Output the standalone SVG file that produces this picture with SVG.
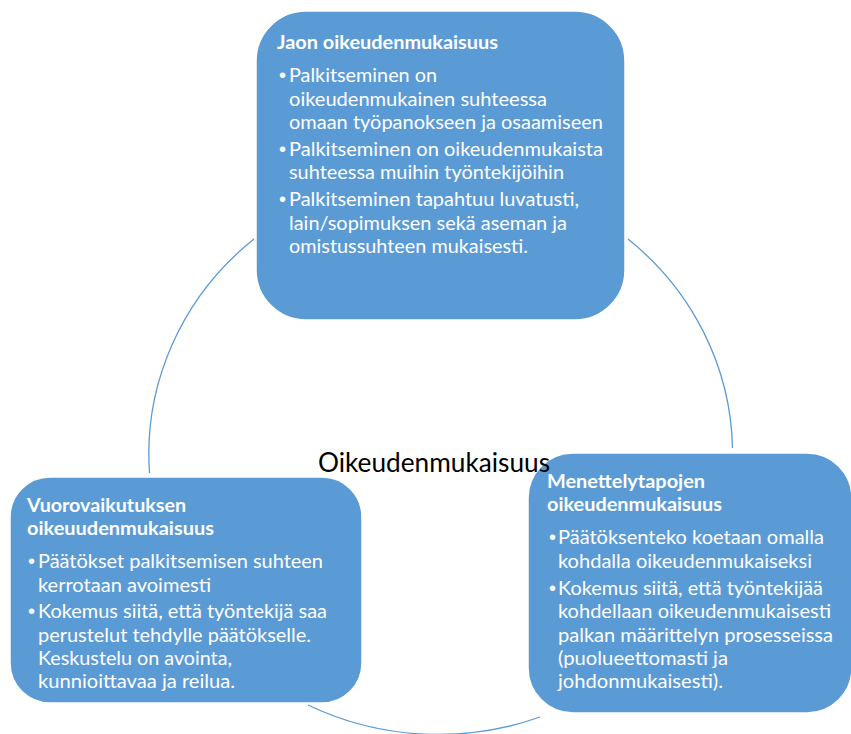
<svg xmlns="http://www.w3.org/2000/svg" width="851" height="734" viewBox="0 0 851 734">
<style>
.box{fill:#5B9BD5;stroke:#ffffff;stroke-width:1.5}
.arc{fill:none;stroke:#5B9BD5;stroke-width:1.3}
.t{font-family:Lato,"Liberation Sans",sans-serif;font-size:19.5px;fill:#ffffff}
.b{font-family:"Liberation Sans",sans-serif;font-size:20px;fill:#ffffff}
.h{font-family:Lato,"Liberation Sans",sans-serif;font-size:19.5px;font-weight:bold;fill:#ffffff}
.c{font-family:Lato,"Liberation Sans",sans-serif;font-size:27px;fill:#000000}
</style>
<rect width="851" height="734" fill="#ffffff"/>
<g id="connectors">
<path class="arc" d="M 254 239 A 292 280 0 0 0 149.5 473"/>
<path class="arc" d="M 628 239 A 292 280 0 0 1 732.5 448"/>
<path class="arc" d="M 540 717 A 292 280 0 0 1 308 705"/>
</g>
<g id="node-jaon">
<rect class="box" x="256" y="11" width="369" height="309" rx="50" ry="50"/>
<text class="h" x="277" y="49" textLength="221" lengthAdjust="spacingAndGlyphs">Jaon oikeudenmukaisuus</text>
<text class="b" x="279" y="82">•</text>
<text class="t" x="289" y="82" textLength="148" lengthAdjust="spacingAndGlyphs">Palkitseminen on</text>
<text class="t" x="289" y="106" textLength="258" lengthAdjust="spacingAndGlyphs">oikeudenmukainen suhteessa</text>
<text class="t" x="289" y="129" textLength="314" lengthAdjust="spacingAndGlyphs">omaan työpanokseen ja osaamiseen</text>
<text class="b" x="279" y="156">•</text>
<text class="t" x="289" y="156" textLength="314" lengthAdjust="spacingAndGlyphs">Palkitseminen on oikeudenmukaista</text>
<text class="t" x="289" y="179" textLength="275" lengthAdjust="spacingAndGlyphs">suhteessa muihin työntekijöihin</text>
<text class="b" x="279" y="206">•</text>
<text class="t" x="289" y="206" textLength="290" lengthAdjust="spacingAndGlyphs">Palkitseminen tapahtuu luvatusti,</text>
<text class="t" x="289" y="230" textLength="278" lengthAdjust="spacingAndGlyphs">lain/sopimuksen sekä aseman ja</text>
<text class="t" x="289" y="253" textLength="239" lengthAdjust="spacingAndGlyphs">omistussuhteen mukaisesti.</text>
</g>
<g id="node-vuorovaikutus">
<rect class="box" x="10" y="477" width="352" height="226" rx="40" ry="40"/>
<text class="h" x="27" y="512" textLength="159" lengthAdjust="spacingAndGlyphs">Vuorovaikutuksen</text>
<text class="h" x="27" y="535" textLength="187" lengthAdjust="spacingAndGlyphs">oikeuudenmukaisuus</text>
<text class="b" x="28" y="568">•</text>
<text class="t" x="38" y="568" textLength="285" lengthAdjust="spacingAndGlyphs">Päätökset palkitsemisen suhteen</text>
<text class="t" x="38" y="592" textLength="173" lengthAdjust="spacingAndGlyphs">kerrotaan avoimesti</text>
<text class="b" x="28" y="618">•</text>
<text class="t" x="38" y="618" textLength="289" lengthAdjust="spacingAndGlyphs">Kokemus siitä, että työntekijä saa</text>
<text class="t" x="38" y="642" textLength="273" lengthAdjust="spacingAndGlyphs">perustelut tehdylle päätökselle.</text>
<text class="t" x="38" y="665" textLength="194" lengthAdjust="spacingAndGlyphs">Keskustelu on avointa,</text>
<text class="t" x="38" y="688" textLength="197" lengthAdjust="spacingAndGlyphs">kunnioittavaa ja reilua.</text>
</g>
<g id="node-menettely">
<rect class="box" x="528" y="453" width="324" height="260" rx="45" ry="45"/>
<text class="h" x="547" y="488" textLength="158" lengthAdjust="spacingAndGlyphs">Menettelytapojen</text>
<text class="h" x="547" y="511" textLength="175" lengthAdjust="spacingAndGlyphs">oikeudenmukaisuus</text>
<text class="b" x="549" y="544">•</text>
<text class="t" x="558" y="544" textLength="266" lengthAdjust="spacingAndGlyphs">Päätöksenteko koetaan omalla</text>
<text class="t" x="558" y="568" textLength="254" lengthAdjust="spacingAndGlyphs">kohdalla oikeudenmukaiseksi</text>
<text class="b" x="549" y="595">•</text>
<text class="t" x="558" y="595" textLength="265" lengthAdjust="spacingAndGlyphs">Kokemus siitä, että työntekijää</text>
<text class="t" x="558" y="618" textLength="273" lengthAdjust="spacingAndGlyphs">kohdellaan oikeudenmukaisesti</text>
<text class="t" x="558" y="642" textLength="275" lengthAdjust="spacingAndGlyphs">palkan määrittelyn prosesseissa</text>
<text class="t" x="558" y="665" textLength="170" lengthAdjust="spacingAndGlyphs">(puolueettomasti ja</text>
<text class="t" x="558" y="688" textLength="165" lengthAdjust="spacingAndGlyphs">johdonmukaisesti).</text>
</g>
<g id="center">
<text class="c" x="318" y="472" textLength="232" lengthAdjust="spacingAndGlyphs">Oikeudenmukaisuus</text>
</g>
</svg>
